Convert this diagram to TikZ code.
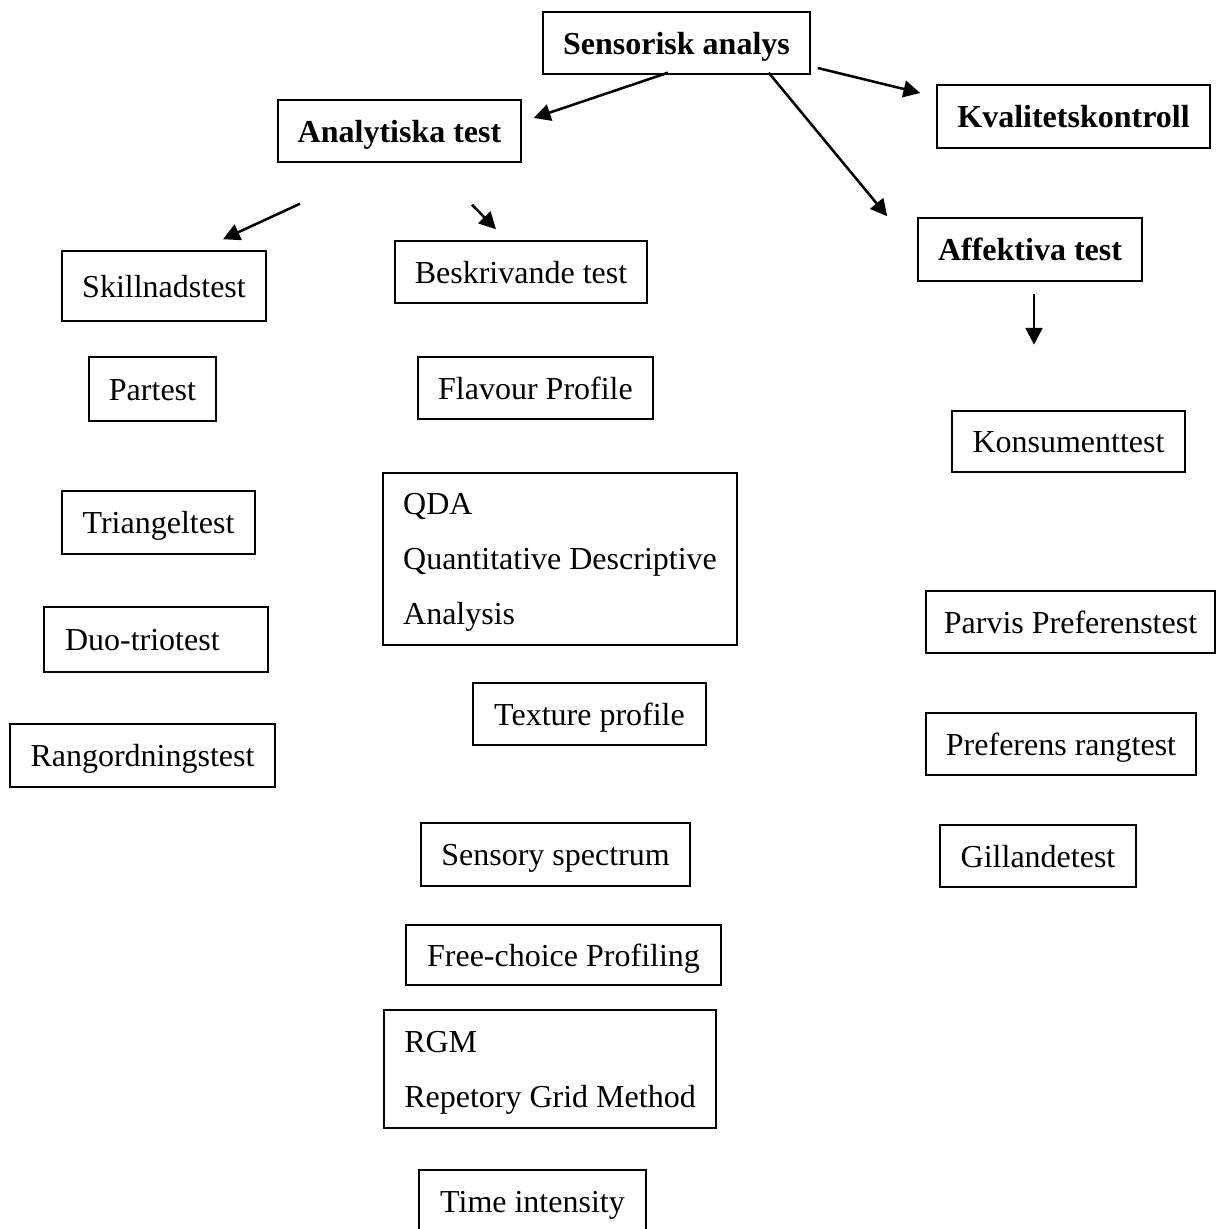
\documentclass[tikz,border=0pt]{standalone}
\usepackage{fontspec}
\setmainfont{Liberation Serif}
\usepackage{tikz}
\usetikzlibrary{arrows.meta}

\begin{document}
\begin{tikzpicture}[
                x=0.375pt, y=-0.375pt, % one unit is one pixel of the page
                frame/.style={draw, line width=0.55pt, inner sep=0pt, align=left, font=\fontsize{12}{20.6}\selectfont}, % plain frame
                box/.style={frame, text height=8.3pt, text depth=0pt}, % one line box
                head/.style={box, font=\fontsize{12}{20.6}\selectfont\bfseries}, % bold box
                arr/.style={line width=0.95pt, -{Triangle[length=6.3pt,width=6.3pt]}} % arrows
                ]
                \useasboundingbox (0,0) rectangle (1215,1229);
                % top level
                \node[head, minimum width=100.1pt, minimum height=23.25pt] (sens) at (676.5,43) {Sensorisk analys};
                \node[head, minimum width=91.1pt, minimum height=23.25pt] (anal) at (399.5,131) {Analytiska test};
                \node[head, minimum width=102.4pt, minimum height=23.6pt] (kval) at (1073.5,116.5) {Kvalitetskontroll};
                \node[head, minimum width=84pt, minimum height=23.6pt] (aff) at (1030,249.5) {Affektiva test};
                % left column
                \node[box, minimum width=76.5pt, minimum height=26.25pt] (skill) at (164,286) {Skillnadstest};
                \node[box, minimum width=47.6pt, minimum height=24pt] (part) at (152.5,389) {Partest};
                \node[box, minimum width=72.4pt, minimum height=23.6pt] (tri) at (158.5,522.5) {Triangeltest};
                \node[box, text width=68.25pt, inner xsep=7.9pt, minimum height=24.4pt] (duo) at (156,639.5) {Duo-triotest};
                \node[box, minimum width=99.4pt, minimum height=23.6pt] (rang) at (142.5,755.5) {Rangordningstest};
                % middle column
                \node[box, minimum width=94.5pt, minimum height=23.25pt] (besk) at (521,272) {Beskrivande test};
                \node[box, minimum width=88.1pt, minimum height=23.25pt] (flav) at (535.5,388) {Flavour Profile};
                \node[frame, minimum width=132.75pt, minimum height=64.5pt] (qda) at (560,559) {\rule{0pt}{10.5pt}QDA\\Quantitative Descriptive\\Analysis};
                \node[box, minimum width=87.4pt, minimum height=23.25pt] (tex) at (589.5,714) {Texture profile};
                \node[box, minimum width=100.9pt, minimum height=23.6pt] (sspec) at (555.5,854.5) {Sensory spectrum};
                \node[box, minimum width=118.1pt, minimum height=22.5pt] (free) at (563.5,955) {Free-choice Profiling};
                \node[frame, minimum width=124.5pt, minimum height=44.25pt] (rgm) at (550,1069) {\rule{0pt}{10.5pt}RGM\\Repetory Grid Method};
                \node[box, minimum width=85.1pt, minimum height=23.25pt] (time) at (532.5,1201) {Time intensity};
                % right column
                \node[box, minimum width=87.4pt, minimum height=22.9pt] (kons) at (1068.5,441.5) {Konsumenttest};
                \node[box, minimum width=108.4pt, minimum height=23.25pt] (parv) at (1070.5,622) {Parvis Preferenstest};
                \node[box, minimum width=101.25pt, minimum height=23.25pt] (pref) at (1061,744) {Preferens rangtest};
                \node[box, minimum width=73.5pt, minimum height=23.25pt] (gill) at (1038,856) {Gillandetest};
                % arrows
                \draw[arr] ([shift={(-8.5,-2)}]sens.south) -- ([shift={(12,-13)}]anal.east);
                \draw[arr] ([shift={(7,25)}]sens.east) -- ([shift={(-16,-23.5)}]kval.west);
                \draw[arr] ([shift={(-42,-2)}]sens.south east) -- ([shift={(-30,-1)}]aff.north west);
                \draw[arr] ([shift={(-99.5,41)}]anal.south) -- ([shift={(59,-11)}]skill.north);
                \draw[arr] ([shift={(72.5,42)}]anal.south) -- ([shift={(-25,-11)}]besk.north);
                \draw[arr] ([shift={(4,12)}]aff.south) -- ([shift={(4,63)}]aff.south);
            \end{tikzpicture}
\end{document}
